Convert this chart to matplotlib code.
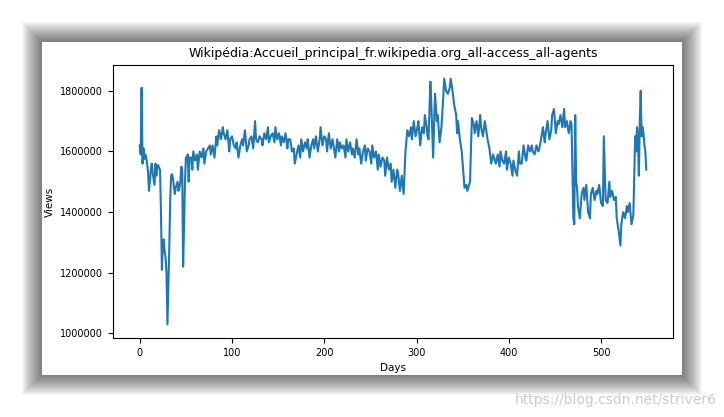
import matplotlib.pyplot as plt
from matplotlib.patches import Rectangle

days = [0,1,2,3,4,5,6,7,8,9,10,11,12,13,14,16,17,18,19,20,21,22,23,24,25,26,27,28,29,30,31,32,33,34,35,36,38,39,40,41,42,43,44,45,46,47,48,49,50,51,52,53,54,56,57,58,60,62,63,65,67,69,70,72,74,76,77,79,81,83,84,86,88,90,91,93,95,97,98,100,102,104,105,107,109,111,112,114,116,118,119,121,123,125,126,128,130,132,133,135,137,139,140,142,144,146,147,149,151,153,154,156,158,160,161,163,165,167,168,170,172,174,175,177,179,181,182,184,186,188,189,191,193,195,196,198,200,202,203,205,207,209,210,212,214,216,217,219,221,223,224,226,228,230,231,233,235,237,238,240,242,244,245,247,249,251,252,254,256,258,259,261,263,265,266,268,270,272,273,275,277,279,280,282,284,286,287,288,290,292,294,295,297,299,301,302,304,306,308,309,311,312,313,315,316,318,320,322,323,325,327,329,330,332,334,336,337,339,341,343,344,345,347,349,351,352,354,355,356,358,360,362,363,365,367,369,370,372,374,376,377,379,381,383,384,386,388,390,391,393,395,397,398,400,402,404,405,407,409,411,412,414,416,418,419,421,423,425,426,428,430,432,433,435,437,439,440,442,444,446,447,449,451,453,454,456,458,460,461,463,465,467,468,470,471,472,473,474,475,477,479,481,482,484,486,488,489,491,493,495,496,498,500,502,503,505,507,509,510,512,514,516,517,519,521,522,524,526,528,529,531,533,535,536,537,538,539,540,541,542,543,544,545,546,547,548,549]
views = [1620,1590,1810,1560,1610,1575,1590,1580,1560,1530,1470,1500,1540,1560,1530,1490,1560,1520,1550,1555,1545,1540,1400,1210,1290,1310,1270,1250,1200,1030,1150,1280,1440,1520,1525,1510,1460,1480,1490,1500,1470,1480,1500,1550,1540,1220,1350,1500,1580,1570,1590,1500,1580,1580,1540,1600,1570,1590,1540,1600,1580,1610,1560,1600,1610,1620,1590,1620,1580,1650,1620,1670,1640,1680,1660,1640,1670,1600,1640,1650,1620,1610,1630,1580,1620,1640,1620,1670,1600,1620,1640,1650,1610,1700,1640,1630,1650,1640,1620,1660,1640,1680,1630,1650,1660,1630,1680,1640,1660,1620,1650,1630,1660,1610,1640,1640,1600,1610,1560,1590,1620,1580,1640,1600,1630,1610,1640,1580,1620,1640,1610,1650,1600,1640,1680,1620,1650,1640,1600,1660,1610,1640,1620,1580,1640,1600,1630,1610,1620,1580,1640,1600,1630,1590,1610,1580,1640,1590,1610,1560,1600,1620,1570,1610,1600,1560,1620,1580,1600,1540,1590,1550,1580,1570,1520,1580,1540,1560,1500,1540,1480,1540,1530,1470,1520,1460,1530,1600,1670,1650,1680,1640,1700,1650,1680,1700,1620,1680,1660,1720,1680,1650,1640,1830,1760,1580,1790,1700,1720,1630,1680,1780,1840,1800,1790,1810,1840,1800,1750,1720,1660,1700,1640,1600,1520,1480,1490,1470,1480,1500,1710,1690,1660,1700,1650,1720,1680,1650,1700,1660,1640,1610,1560,1590,1580,1560,1590,1550,1600,1570,1560,1600,1540,1580,1560,1520,1570,1540,1520,1600,1560,1560,1620,1580,1570,1620,1600,1620,1600,1590,1620,1600,1610,1640,1680,1630,1660,1700,1640,1670,1720,1740,1660,1700,1690,1720,1680,1740,1680,1700,1660,1700,1690,1380,1360,1720,1500,1480,1420,1380,1460,1480,1440,1490,1400,1380,1460,1480,1440,1470,1460,1490,1430,1420,1650,1440,1430,1500,1450,1470,1440,1450,1380,1340,1290,1360,1400,1380,1420,1400,1430,1360,1390,1520,1650,1600,1680,1640,1520,1700,1800,1650,1680,1660,1620,1600,1540]

fig = plt.figure(figsize=(7.24, 4.17), dpi=100)
fig.patch.set_facecolor('white')
W, H = 724, 417
for i in range(20, 0, -1):
    fig.patches.append(Rectangle(((42 - i) / W, 1 - (375 + i) / H), (640 + 2 * i) / W, (333 + 2 * i) / H,
                                 transform=fig.transFigure, color='black', alpha=0.03, lw=0, zorder=0))
fig.patches.append(Rectangle((42 / W, 1 - 375 / H), 640 / W, 333 / H, transform=fig.transFigure,
                             color='white', lw=0, zorder=1))
ax = fig.add_axes([113 / W, 1 - 338 / H, 560 / W, 273 / H])
ax.set_zorder(2)
ax.plot(days, [v * 1000 for v in views], color='#1f77b4', lw=1.5)
ax.set_title('Wikipédia:Accueil_principal_fr.wikipedia.org_all-access_all-agents', fontsize=9)
ax.set_xlabel('Days', fontsize=7.5)
ax.set_ylabel('Views', fontsize=7.5)
ax.tick_params(labelsize=7)
ax.set_xlim(-29, 578)
ax.set_yticks([1000000, 1200000, 1400000, 1600000, 1800000])
ax.set_yticklabels(['1000000', '1200000', '1400000', '1600000', '1800000'])
ax.set_ylim(985000, 1885000)
fig.text(0.99, 0.03, 'https://blog.csdn.net/striver6', ha='right', fontsize=10, color='#cccccc', zorder=3)
fig.savefig('out.png', dpi=100)
